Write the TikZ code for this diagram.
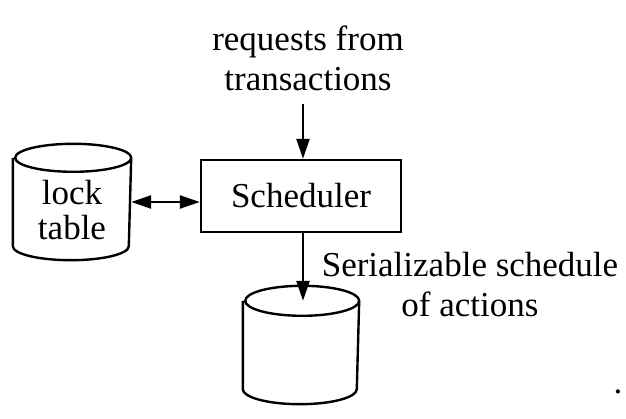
\documentclass[tikz,border=0pt]{standalone}
\usepackage{fontspec}
\setmainfont{Liberation Serif}
\usetikzlibrary{arrows.meta,positioning}

\begin{document}
\begin{tikzpicture}[x=1pt,y=1pt,line width=2.4pt,
    every node/.style={font=\fontsize{35}{40}\selectfont,inner sep=0pt},
    box/.style={draw,minimum width=200pt,minimum height=72pt},
    dbbox/.style={minimum width=#1,minimum height=86pt},
    tip/.style={-{Triangle[length=20pt,width=13pt]}},
    bothtip/.style={{Triangle[length=20pt,width=13pt]}-{Triangle[length=20pt,width=13pt]}}]
  \useasboundingbox (0,0) rectangle (626,418);

  \node[box] (sched) at (301,222) {Scheduler};
  \node[align=center] (req) at (308,360) {requests from\\transactions};
  \node[dbbox=116pt] (lock) at (72,216) {};
  \node[align=center] (locktxt) at ([yshift=-8pt]lock.center) {lock\\[-5pt]table};
  \node[dbbox=114pt] (db) at (301,73) {};
  \node[align=center] (ser) at (470,133) {Serializable schedule\\of actions};
  \node[anchor=base] (dot) at (618,25) {.};

  % cylinders
  \draw (lock.north west) -- (lock.south west)
    arc[start angle=180,end angle=360,x radius=58pt,y radius=14pt] -- (lock.north east)
    arc[start angle=0,end angle=180,x radius=58pt,y radius=14pt]
    arc[start angle=180,end angle=360,x radius=58pt,y radius=14pt];
  \draw (db.north west) -- (db.south west)
    arc[start angle=180,end angle=360,x radius=57pt,y radius=15pt] -- (db.north east)
    arc[start angle=0,end angle=180,x radius=57pt,y radius=15pt]
    arc[start angle=180,end angle=360,x radius=57pt,y radius=15pt];

  \draw[tip] ([xshift=2pt,yshift=-12pt]sched.north |- req.south) -- ([xshift=2pt]sched.north);
  \draw[bothtip] (lock.east) -- (lock.east -| sched.west);
  \draw[tip] ([xshift=2pt]sched.south) -- ([xshift=2pt]db.north);
\end{tikzpicture}
\end{document}
